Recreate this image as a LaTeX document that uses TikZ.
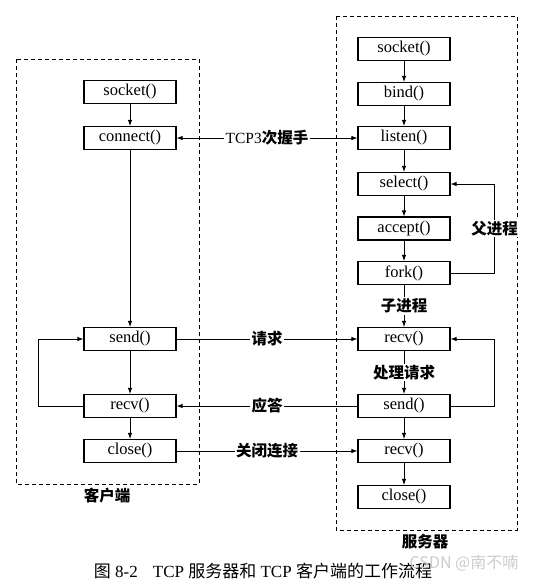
\documentclass[tikz,border=0pt]{standalone}
\usepackage{fontspec}
\setmainfont{Liberation Serif}
\newfontfamily\cjk{Noto Sans CJK SC}
\usetikzlibrary{arrows.meta}

\begin{document}
\begin{tikzpicture}[x=1pt,y=-1pt,
	>={Latex[length=6pt,width=4.5pt]},
	box/.style={draw,line width=1.1pt,minimum width=92pt,minimum height=23pt,inner sep=0pt,font=\fontsize{16.5}{16.5}\selectfont},
	lab/.style={fill=white,inner sep=1.5pt,font=\cjk\bfseries\fontsize{15.5}{16}\selectfont},
	frame/.style={line width=0.9pt,dash pattern=on 4pt off 3pt},
	arr/.style={->,line width=0.9pt}]
	\useasboundingbox (0,0) rectangle (539,587);

	%cadres pointilles
	\draw [frame] (16,59) rectangle (199,484);
	\draw [frame] (336,16) rectangle (517,530);
	\node [lab,fill=none] (kehu) at (107,496) {客户端};
	\node [lab,fill=none] (fuwu) at (425,542) {服务器};

	%client
	\node [box] (csocket) at (130,92) {socket()};
	\node [box] (cconnect) at (130,138) {connect()};
	\node [box] (csend) at (130,339) {send()};
	\node [box] (crecv) at (130,406) {recv()};
	\node [box] (cclose) at (130,451) {close()};

	%serveur
	\node [box] (ssocket) at (404,49) {socket()};
	\node [box] (sbind) at (404,94) {bind()};
	\node [box] (slisten) at (404,138) {listen()};
	\node [box] (sselect) at (404,184) {select()};
	\node [box] (saccept) at (404,228.5) {accept()};
	\node [box] (sfork) at (404,273) {fork()};
	\node [box] (srecv) at (404,339) {recv()};
	\node [box] (ssend) at (404,406) {send()};
	\node [box] (srecvb) at (404,451) {recv()};
	\node [box] (sclose) at (404,497) {close()};

	%fleches client
	\draw [arr] (csocket) -- (cconnect);
	\draw [arr] (cconnect) -- (csend);
	\draw [arr] (csend) -- (crecv);
	\draw [arr] (crecv) -- (cclose);
	\draw [arr] (crecv.west) --++ (-45,0) |- (csend.west);

	%fleches serveur
	\draw [arr] (ssocket) -- (sbind);
	\draw [arr] (sbind) -- (slisten);
	\draw [arr] (slisten) -- (sselect);
	\draw [arr] (sselect) -- (saccept);
	\draw [arr] (saccept) -- (sfork);
	\draw [arr] (sfork) -- node [lab] {子进程} (srecv);
	\draw [arr] (srecv) -- node [lab] {处理请求} (ssend);
	\draw [arr] (ssend) -- (srecvb);
	\draw [arr] (srecvb) -- (sclose);
	\draw [arr] (sfork.east) --++ (44,0) |- node [lab,pos=0.25] {父进程} (sselect.east);
	\draw [arr] (ssend.east) --++ (44,0) |- (srecv.east);

	%echanges
	\draw [arr,<->] (cconnect) -- node [lab] {{\rmfamily\mdseries TCP3}次握手} (slisten);
	\draw [arr] (csend) -- node [lab] {请求} (srecv);
	\draw [arr] (ssend) -- node [lab] {应答} (crecv);
	\draw [arr] (cclose) -- node [lab] {关闭连接} (srecvb);

	%legende
	\node [font=\fontsize{17}{17}\selectfont] (legende) at (263,571) {{\cjk 图} 8-2\hspace{15pt}TCP {\cjk 服务器和} TCP {\cjk 客户端的工作流程}};
	\node [gray!40,font=\cjk\fontsize{16}{16}\selectfont] (marque) at (464,563) {CSDN @南不喃};
\end{tikzpicture}
\end{document}
